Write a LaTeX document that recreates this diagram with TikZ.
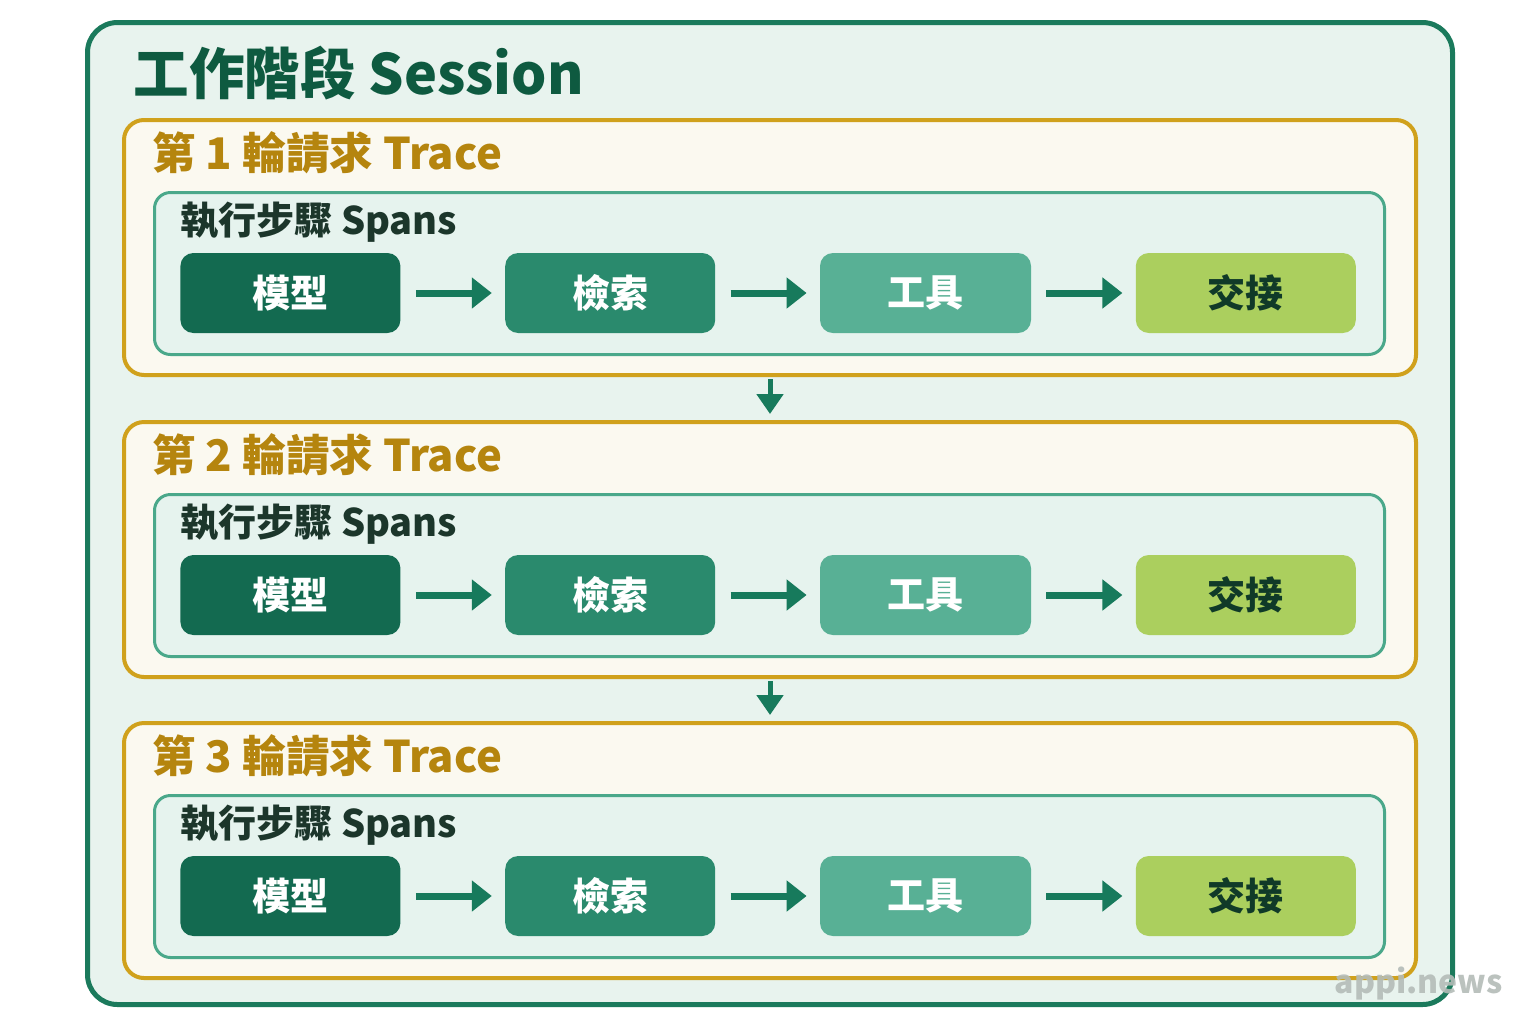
\documentclass[tikz,border=0pt]{standalone}
\usepackage{fontspec}
\setmainfont{Noto Sans CJK TC}
\usetikzlibrary{positioning,arrows.meta}
\definecolor{sessionline}{HTML}{1B7A5C}
\definecolor{sessionfill}{HTML}{E8F3EE}
\definecolor{titlegreen}{HTML}{0E5A40}
\definecolor{traceline}{HTML}{D0A11C}
\definecolor{tracefill}{HTML}{FBF9F0}
\definecolor{tracetext}{HTML}{B5850E}
\definecolor{spanline}{HTML}{4AA88A}
\definecolor{spanfill}{HTML}{E6F3EE}
\definecolor{spantext}{HTML}{1C362B}
\definecolor{modelfill}{HTML}{136A50}
\definecolor{searchfill}{HTML}{2A8A6D}
\definecolor{toolfill}{HTML}{58B095}
\definecolor{handofffill}{HTML}{ABCF5E}
\definecolor{handofftext}{HTML}{103A28}
\definecolor{arrowgreen}{HTML}{177A5C}
\definecolor{watermark}{HTML}{B4BCB8}
\begin{document}
\begin{tikzpicture}[x=0.5pt, y=-0.5pt, node distance=52pt,
  tracebox/.style={draw=traceline, line width=2pt, fill=tracefill, rounded corners=10pt,
    minimum width=646pt, minimum height=127.5pt, anchor=north west},
  tracetitle/.style={anchor=west, inner sep=0pt, text=tracetext, font=\bfseries\fontsize{21.8}{22}\selectfont},
  spanbox/.style={draw=spanline, line width=1.5pt, fill=spanfill, rounded corners=8pt,
    minimum width=615pt, minimum height=81pt, anchor=north west},
  spanlabel/.style={anchor=west, inner sep=0pt, text=spantext, font=\bfseries\fontsize{19}{19}\selectfont},
  stepbox/.style={rounded corners=6.5pt, minimum height=40pt, inner sep=0pt, text=white,
    font=\bfseries\fontsize{19}{19}\selectfont},
  steparrow/.style={draw=arrowgreen, line width=3.5pt, -{Triangle[length=10pt,width=15pt]},
    shorten <=7.5pt, shorten >=6.5pt},
  flowarrow/.style={draw=arrowgreen, line width=2.5pt, -{Triangle[length=10pt,width=13pt]},
    shorten <=1pt, shorten >=3pt}]
\useasboundingbox (0,0) rectangle (1536,1024);
\fill[white] (0,0) rectangle (1536,1024);
% session frame
\node[draw=sessionline, line width=2.5pt, fill=sessionfill, rounded corners=15pt,
  minimum width=682.5pt, minimum height=491pt, anchor=north west] (session) at (85,20) {};
\node[anchor=west, inner sep=0pt, text=titlegreen, font=\bfseries\fontsize{27.8}{28}\selectfont]
  (title) at (133,73) {工作階段 Session};
% three traces
\foreach \i/\y in {1/118, 2/420, 3/721} {
  \node[tracebox] (trace\i) at (122,\y) {};
  \node[tracetitle] (tracelabel\i) at (152,\y+35) {第 \i{} 輪請求 Trace};
  \node[spanbox] (spans\i) at (153,\y+73) {};
  \node[spanlabel] (spanlabel\i) at (180,\y+104) {執行步驟 Spans};
  \node[stepbox, fill=modelfill, minimum width=110pt, anchor=west] (model\i) at (180,\y+175) {模型};
  \node[stepbox, fill=searchfill, minimum width=105pt, right=of model\i] (search\i) {檢索};
  \node[stepbox, fill=toolfill, minimum width=105.5pt, right=of search\i] (tool\i) {工具};
  \node[stepbox, fill=handofffill, text=handofftext, minimum width=110pt, right=of tool\i] (handoff\i) {交接};
  \draw[steparrow] (model\i) -- (search\i);
  \draw[steparrow] (search\i) -- (tool\i);
  \draw[steparrow] (tool\i) -- (handoff\i);
}
\draw[flowarrow] (trace1.south) -- (trace2.north);
\draw[flowarrow] (trace2.south) -- (trace3.north);
\node[anchor=east, inner sep=0pt, text=watermark, opacity=0.9, font=\bfseries\fontsize{16}{16}\selectfont]
  (mark) at (1503,983) {appi.news};
\end{tikzpicture}
\end{document}
